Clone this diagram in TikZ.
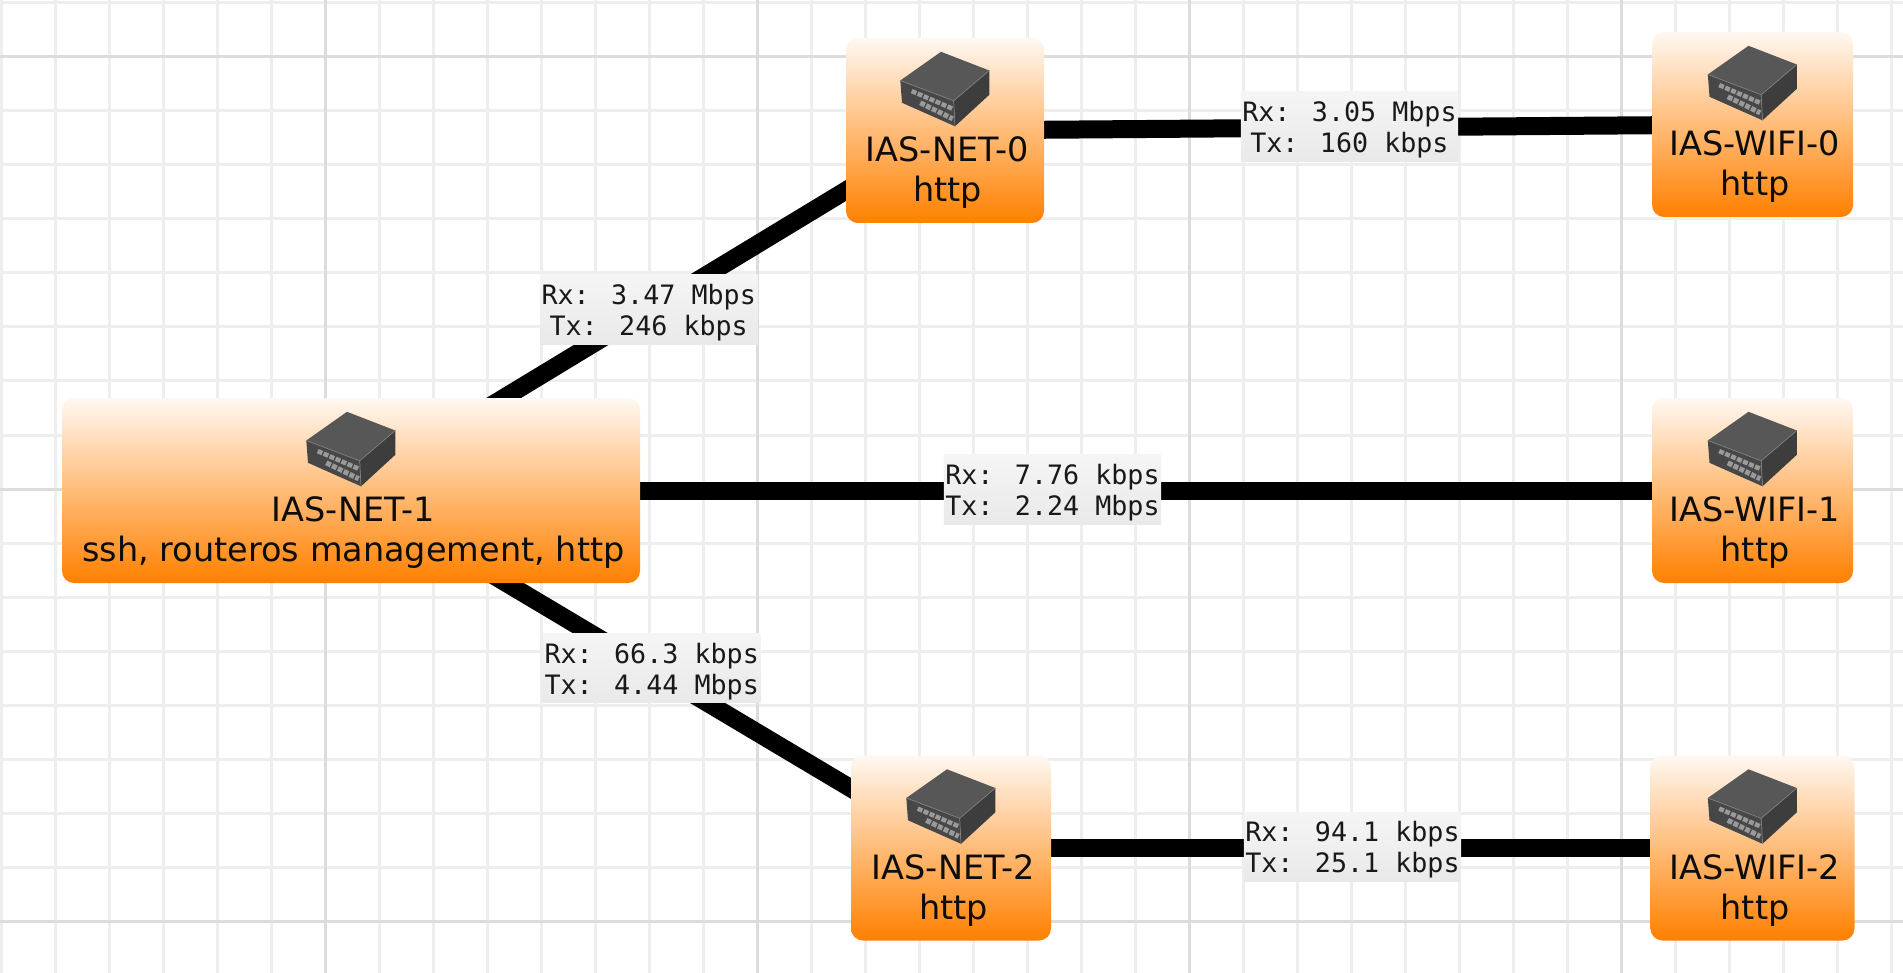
\documentclass[tikz,border=0pt]{standalone}
\usepackage{fontspec}
\usetikzlibrary{calc}
\setmainfont{DejaVu Sans}
\newfontfamily\monof{DejaVu Sans Mono}
\pgfdeclarelayer{gridlayer}
\pgfdeclarelayer{edgelayer}
\pgfsetlayers{gridlayer,edgelayer,main}
\definecolor{minorgrid}{HTML}{EEEEEE}
\definecolor{majorgrid}{HTML}{DCDCDC}
\definecolor{labeltop}{HTML}{F5F5F5}
\definecolor{labelbot}{HTML}{E9E9E9}
\definecolor{boxtop}{HTML}{FFF8F2}
\definecolor{boxbot}{HTML}{FF8000}
\definecolor{icontop}{HTML}{575757}
\definecolor{iconleft}{HTML}{474747}
\definecolor{iconright}{HTML}{3D3D3D}
\definecolor{iconport}{HTML}{9A9A9A}
\tikzset{
  devbox/.style={rounded corners=12pt,top color=boxtop,bottom color=boxbot,draw=none,inner sep=0pt,minimum height=185pt},
  devtext/.style={font=\fontsize{33.5}{39}\selectfont,text=black!95,anchor=base,inner sep=0pt},
  link/.style={line width=18pt,draw=black},
  rate/.style={font=\monof\fontsize{26.7}{31}\selectfont,top color=labeltop,bottom color=labelbot,align=center,inner xsep=1.5pt,inner ysep=3pt,text=black!90,xshift=.7pt,yshift=1pt},
  devicon/.pic={
    \fill[icontop] (-44.7,28.7)--(-4,0)--(44.3,18.7)--(8.7,49)--cycle;
    \fill[iconleft] (-44.7,28.7)--(8.7,49)--(10,74.5)--(-43,51)--cycle;
    \fill[iconright] (8.7,49)--(44.3,18.7)--(44.3,43)--(10,74.5)--cycle;
    \draw[black!50,line width=.7pt,line join=round] (-44.7,28.7)--(8.7,49)--(44.3,18.7) (8.7,49)--(10,74.5);
    \draw[iconport,line width=4.5pt,dash pattern=on 5pt off 1.5pt] (-33.3,39.3)--(7.7,57);
    \draw[iconport,line width=5pt,dash pattern=on 5pt off 1.5pt] (-24.7,51)--(7.7,67);
  }
}
\newcommand{\devnode}[6]{% name, cx, cy, w, line1, line2
  \node[devbox,minimum width=#4pt] (#1) at (#2,#3) {};
  \pic at ([yshift=-14pt]#1.north) {devicon};
  \node[devtext] (#1-a) at ([xshift=2.5pt,yshift=-124pt]#1.north) {#5};
  \node[devtext] (#1-b) at ([xshift=2.5pt,yshift=-164pt]#1.north) {#6};
}
\newcommand{\ratetext}[2]{\rule{0pt}{26.5pt}Rx: #1\\Tx: #2}
\begin{document}
\begin{tikzpicture}[x=1pt,y=-1pt]
\useasboundingbox (0,0) rectangle (1903,973);
\begin{pgfonlayer}{gridlayer}
  \fill[white] (0,0) rectangle (1903,973);
  \foreach \gx in {1,55,...,1903} \draw[minorgrid,line width=3pt] (\gx,0)--(\gx,973);
  \foreach \gy in {3,57,...,973} \draw[minorgrid,line width=3pt] (0,\gy)--(1903,\gy);
  \foreach \gx in {325,757,1189,1621} \draw[majorgrid,line width=3pt] (\gx,0)--(\gx,973);
  \foreach \gy in {57,489,921} \draw[majorgrid,line width=3pt] (0,\gy)--(1903,\gy);
\end{pgfonlayer}
\devnode{net1}{351}{490.5}{578}{IAS-NET-1}{ssh, routeros management, http}
\devnode{net0}{945}{130.5}{198}{IAS-NET-0}{http}
\devnode{net2}{951}{848}{200}{IAS-NET-2}{http}
\devnode{wifi0}{1752.5}{124.5}{201}{IAS-WIFI-0}{http}
\devnode{wifi1}{1752.5}{490.5}{201}{IAS-WIFI-1}{http}
\devnode{wifi2}{1752.5}{848}{204}{IAS-WIFI-2}{http}
\begin{pgfonlayer}{edgelayer}
  \draw[link] (net1.center)--(net0.center);
  \draw[link] (net1.center)--(net2.center);
  \draw[link] (net1.center)--(wifi1.center);
  \draw[link] (net0.center)--(wifi0.center);
  \draw[link] (net2.center)--(wifi2.center);
\end{pgfonlayer}
\node[rate] (r0) at ($(net1.center)!.5!(net0.center)$) {\ratetext{3.47 Mbps}{246 kbps}};
\node[rate] (r1) at ($(net0.center)!.5!(wifi0.center)$) {\ratetext{3.05 Mbps}{160 kbps}};
\node[rate] (r2) at ($(net1.center)!.5!(wifi1.center)$) {\ratetext{7.76 kbps}{2.24 Mbps}};
\node[rate] (r3) at ($(net1.center)!.5!(net2.center)$) {\ratetext{66.3 kbps}{4.44 Mbps}};
\node[rate] (r4) at ($(net2.center)!.5!(wifi2.center)$) {\ratetext{94.1 kbps}{25.1 kbps}};
\end{tikzpicture}
\end{document}
